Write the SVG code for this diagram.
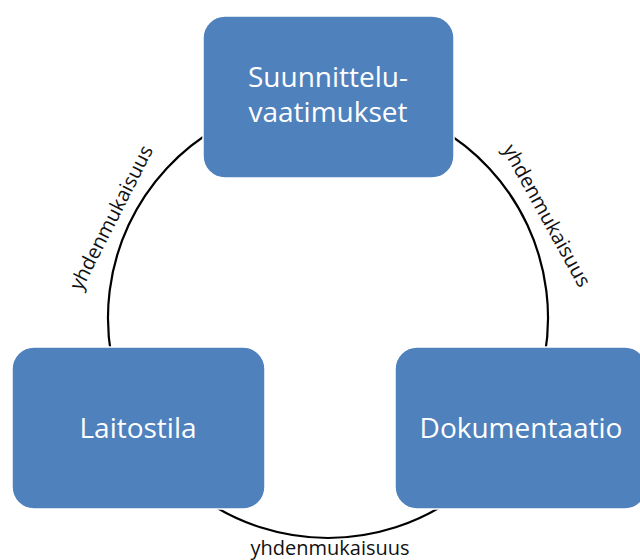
<svg xmlns="http://www.w3.org/2000/svg" width="640" height="560" viewBox="0 0 640 560">
<style>
.box{fill:#4F81BD;stroke:#ffffff;stroke-width:1.5}
.bt{font-family:"Open Sans","Liberation Sans",sans-serif;font-size:28px;fill:#ffffff;text-anchor:middle}
.lbl{font-family:"Open Sans","Liberation Sans",sans-serif;font-size:20px;fill:#111111;text-anchor:middle}
.arc{fill:none;stroke:#000000;stroke-width:2.2}
</style>
<rect width="640" height="560" fill="#ffffff"/>
<g id="connectors">
<path class="arc" d="M218,127.5 A220,220 0 0 0 111.3,356.2"/>
<path class="arc" d="M438,127.5 A220,220 0 0 1 544.7,356.2"/>
<path class="arc" d="M454.2,498.2 A220,220 0 0 1 201.8,498.2"/>
<text class="lbl" transform="translate(112,218) rotate(-63)" y="6">yhdenmukaisuus</text>
<text class="lbl" transform="translate(546,216) rotate(61)" y="6">yhdenmukaisuus</text>
<text class="lbl" x="330" y="555">yhdenmukaisuus</text>
</g>
<g id="node-suunnitteluvaatimukset">
<rect class="box" x="203" y="16" width="251" height="162" rx="22" ry="22"/>
<text class="bt" x="328" y="87">Suunnittelu-</text>
<text class="bt" x="328" y="122">vaatimukset</text>
</g>
<g id="node-laitostila">
<rect class="box" x="12" y="347" width="253" height="162" rx="22" ry="22"/>
<text class="bt" x="138" y="438">Laitostila</text>
</g>
<g id="node-dokumentaatio">
<rect class="box" x="395" y="347" width="252" height="162" rx="22" ry="22"/>
<text class="bt" x="521" y="438">Dokumentaatio</text>
</g>
</svg>
